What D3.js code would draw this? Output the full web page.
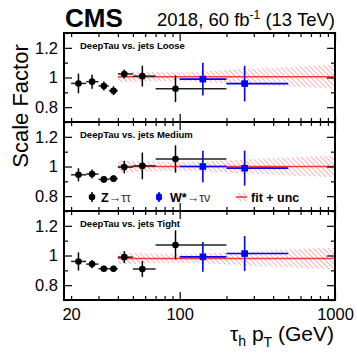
<!DOCTYPE html>
<html>
<head>
<meta charset="utf-8">
<script src="https://cdn.jsdelivr.net/npm/d3@7"></script>
<style>
  body { margin: 0; background: #fff; }
  svg { font-family: "Liberation Sans", Arial, Helvetica, sans-serif; }
</style>
</head>
<body>
<div class="chart"></div>
<script>
// working points, one panel each
const wpNames = ['Loose', 'Medium', 'Tight'];

// Z -> tautau points (mean pT, bin edges, SF, stat unc)
const zBins = [[20, 25], [25, 30], [30, 35], [35, 40], [40, 50], [50, 70], [70, 200]];
const zPt = [22.3, 27.3, 32.5, 37.5, 44, 57.5, 94];
const zSF = [
  [0.960, 0.972, 0.943, 0.911, 1.024, 1.009, 0.924],
  [0.944, 0.949, 0.913, 0.918, 0.996, 1.004, 1.051],
  [0.960, 0.942, 0.911, 0.911, 0.989, 0.909, 1.071]
];
const zErr = [
  [0.066, 0.047, 0.030, 0.030, 0.030, 0.070, 0.090],
  [0.044, 0.030, 0.023, 0.023, 0.042, 0.090, 0.092],
  [0.061, 0.028, 0.020, 0.020, 0.040, 0.053, 0.098]
];

// W* -> taunu points
const wBins = [[100, 200], [200, 500]];
const wPt = [141, 262];
const wSF = [[0.989, 0.959], [1.000, 0.989], [0.991, 1.013]];
const wErr = [[0.110, 0.120], [0.107, 0.118], [0.100, 0.118]];

// fit + uncertainty band
const fitPt = [40, 100, 200, 500, 1000];
const fitSF = [1.005, 1.0, 0.98];
const fitUnc = [
  [0.035, 0.030, 0.045, 0.065, 0.080],
  [0.040, 0.030, 0.040, 0.060, 0.072],
  [0.040, 0.030, 0.040, 0.060, 0.072]
];

const yMajor = [0.8, 1.0, 1.2];
const yMinor = [0.7, 0.9, 1.1, 1.3];
const xMajor = [100, 1000];
const xMinor = [20, 30, 40, 50, 60, 70, 80, 90, 200, 300, 400, 500, 600, 700, 800, 900];
const xLabels = [20, 100, 1000];

const width = 357;
const height = 356;
const left = 64, right = 335;
const panelTop = [33, 122, 211];
const panelH = 89;

const svg = d3.select('.chart').append('svg')
  .attr('width', width)
  .attr('height', height);

const defs = svg.append('defs');
const pat = defs.append('pattern')
  .attr('id', 'hatch')
  .attr('patternUnits', 'userSpaceOnUse')
  .attr('width', 3.5)
  .attr('height', 3.5)
  .attr('patternTransform', 'rotate(-45)');
pat.append('line')
  .attr('x1', 0).attr('y1', 0).attr('x2', 0).attr('y2', 3.5)
  .attr('stroke', '#ff6060')
  .attr('stroke-width', 1.2)
  .attr('opacity', 0.8);

const x = d3.scaleLog().domain([18, 1000]).range([left, right]);

wpNames.forEach((wp, i) => {
  const top = panelTop[i];
  const y = d3.scaleLinear().domain([0.7, 1.3]).range([top + panelH, top]);
  const g = svg.append('g');

  // fit band
  const band = fitPt.map((p, k) => ({ pt: p, lo: fitSF[i] - fitUnc[i][k], hi: fitSF[i] + fitUnc[i][k] }));
  g.append('path')
    .datum(band)
    .attr('fill', 'url(#hatch)')
    .attr('d', d3.area()
      .curve(d3.curveMonotoneX)
      .x(d => x(d.pt))
      .y0(d => y(d.lo))
      .y1(d => y(d.hi)));
  g.append('line')
    .attr('x1', x(fitPt[0]))
    .attr('x2', x(fitPt[fitPt.length - 1]))
    .attr('y1', y(fitSF[i]))
    .attr('y2', y(fitSF[i]))
    .attr('stroke', '#ff3a3a')
    .attr('stroke-width', 1.6);

  // W* points
  wPt.forEach((p, k) => {
    const c = '#0000ff';
    g.append('line')
      .attr('x1', x(wBins[k][0])).attr('x2', x(wBins[k][1]))
      .attr('y1', y(wSF[i][k])).attr('y2', y(wSF[i][k]))
      .attr('stroke', c).attr('stroke-width', 1.6);
    g.append('line')
      .attr('x1', x(p)).attr('x2', x(p))
      .attr('y1', y(wSF[i][k] - wErr[i][k])).attr('y2', y(wSF[i][k] + wErr[i][k]))
      .attr('stroke', c).attr('stroke-width', 1.6);
    g.append('rect')
      .attr('x', x(p) - 3.3).attr('y', y(wSF[i][k]) - 3.3)
      .attr('width', 6.6).attr('height', 6.6)
      .attr('fill', c);
  });

  // Z points
  zPt.forEach((p, k) => {
    g.append('line')
      .attr('x1', x(zBins[k][0])).attr('x2', x(zBins[k][1]))
      .attr('y1', y(zSF[i][k])).attr('y2', y(zSF[i][k]))
      .attr('stroke', '#222').attr('stroke-width', 1.5);
    g.append('line')
      .attr('x1', x(p)).attr('x2', x(p))
      .attr('y1', y(zSF[i][k] - zErr[i][k])).attr('y2', y(zSF[i][k] + zErr[i][k]))
      .attr('stroke', '#000').attr('stroke-width', 1.5);
    g.append('circle')
      .attr('cx', x(p)).attr('cy', y(zSF[i][k]))
      .attr('r', 3.3)
      .attr('fill', '#000');
  });

  // ticks, inward on all four sides
  const tick = (axis, tf, size, vals, labels) => {
    const a = g.append('g').attr('transform', tf)
      .call(axis.tickValues(vals).tickSize(-size).tickPadding(labels ? 6 : 0)
        .tickFormat(labels ? d3.format('') : () => ''));
    a.select('.domain').remove();
    a.selectAll('line').attr('stroke', '#000').attr('stroke-width', 1.2);
    a.selectAll('text').attr('font-size', 16.5).attr('fill', '#000')
      .attr('font-family', '"Liberation Sans", Arial, sans-serif');
    return a;
  };
  tick(d3.axisLeft(y), `translate(${left},0)`, 8, yMajor, true);
  tick(d3.axisLeft(y), `translate(${left},0)`, 4, yMinor, false);
  tick(d3.axisRight(y), `translate(${right},0)`, 8, yMajor, false);
  tick(d3.axisRight(y), `translate(${right},0)`, 4, yMinor, false);
  tick(d3.axisTop(x), `translate(0,${top})`, 8, xMajor, false);
  tick(d3.axisTop(x), `translate(0,${top})`, 4, xMinor, false);
  tick(d3.axisBottom(x), `translate(0,${top + panelH})`, 8, xMajor, false);
  tick(d3.axisBottom(x), `translate(0,${top + panelH})`, 4, xMinor, false);
  if (i === 2) {
    const lab = tick(d3.axisBottom(x), `translate(0,${top + panelH})`, 0, xLabels, true);
    lab.selectAll('text').attr('dy', '0.71em').attr('y', 8);
  }

  g.append('rect')
    .attr('x', left).attr('y', top)
    .attr('width', right - left).attr('height', panelH)
    .attr('fill', 'none')
    .attr('stroke', '#000')
    .attr('stroke-width', 2);

  g.append('text')
    .attr('x', 80).attr('y', top + 16)
    .attr('font-size', 9.5)
    .attr('font-weight', 'bold')
    .text('DeepTau vs. jets ' + wp);
});

// legend in the middle panel
{
  const ly = 197;
  const lg = svg.append('g');
  lg.append('line').attr('x1', 92).attr('x2', 92).attr('y1', ly - 5).attr('y2', ly + 5)
    .attr('stroke', '#000').attr('stroke-width', 1.5);
  lg.append('circle').attr('cx', 92).attr('cy', ly).attr('r', 3.3).attr('fill', '#000');
  const t1 = lg.append('text').attr('x', 101).attr('y', ly + 4.5).attr('font-size', 12.5);
  t1.append('tspan').attr('font-weight', 'bold').text('Z');
  t1.append('tspan').attr('fill', '#333').text('→ττ');

  lg.append('line').attr('x1', 159).attr('x2', 159).attr('y1', ly - 5).attr('y2', ly + 5)
    .attr('stroke', '#0000ff').attr('stroke-width', 1.6);
  lg.append('rect').attr('x', 156).attr('y', ly - 3.5).attr('width', 6).attr('height', 7)
    .attr('rx', 2).attr('fill', '#0000ff');
  const t2 = lg.append('text').attr('x', 170).attr('y', ly + 4.5).attr('font-size', 12.5);
  t2.append('tspan').attr('font-weight', 'bold').text('W*');
  t2.append('tspan').attr('fill', '#333').text('→τν');

  lg.append('rect').attr('x', 236).attr('y', ly - 4).attr('width', 11).attr('height', 8)
    .attr('fill', 'url(#hatch)');
  lg.append('line').attr('x1', 236).attr('x2', 247).attr('y1', ly).attr('y2', ly)
    .attr('stroke', '#ff3a3a').attr('stroke-width', 1.6);
  lg.append('text').attr('x', 251).attr('y', ly + 4.5).attr('font-size', 12.5)
    .attr('font-weight', 'bold').text('fit + unc');
}

// header
svg.append('text')
  .attr('x', 65).attr('y', 27)
  .attr('font-size', 26).attr('font-weight', 'bold')
  .text('CMS');
const lumi = svg.append('text')
  .attr('x', 335).attr('y', 26)
  .attr('text-anchor', 'end')
  .attr('font-size', 18.5);
lumi.append('tspan').text('2018, 60 fb');
lumi.append('tspan').attr('font-size', 12).attr('dy', -7).text('-1');
lumi.append('tspan').attr('dy', 7).text(' (13 TeV)');

// axis titles
svg.append('text')
  .attr('transform', 'translate(28,106) rotate(-90)')
  .attr('text-anchor', 'middle')
  .attr('font-size', 22)
  .text('Scale Factor');

const xt = svg.append('text')
  .attr('x', 334).attr('y', 341)
  .attr('text-anchor', 'end')
  .attr('font-size', 21);
xt.append('tspan').text('τ');
xt.append('tspan').attr('font-size', 14).attr('dy', 5).text('h');
xt.append('tspan').attr('dy', -5).text(' p');
xt.append('tspan').attr('font-size', 14).attr('dy', 6).text('T');
xt.append('tspan').attr('dy', -6).text(' (GeV)');
</script>
</body>
</html>
